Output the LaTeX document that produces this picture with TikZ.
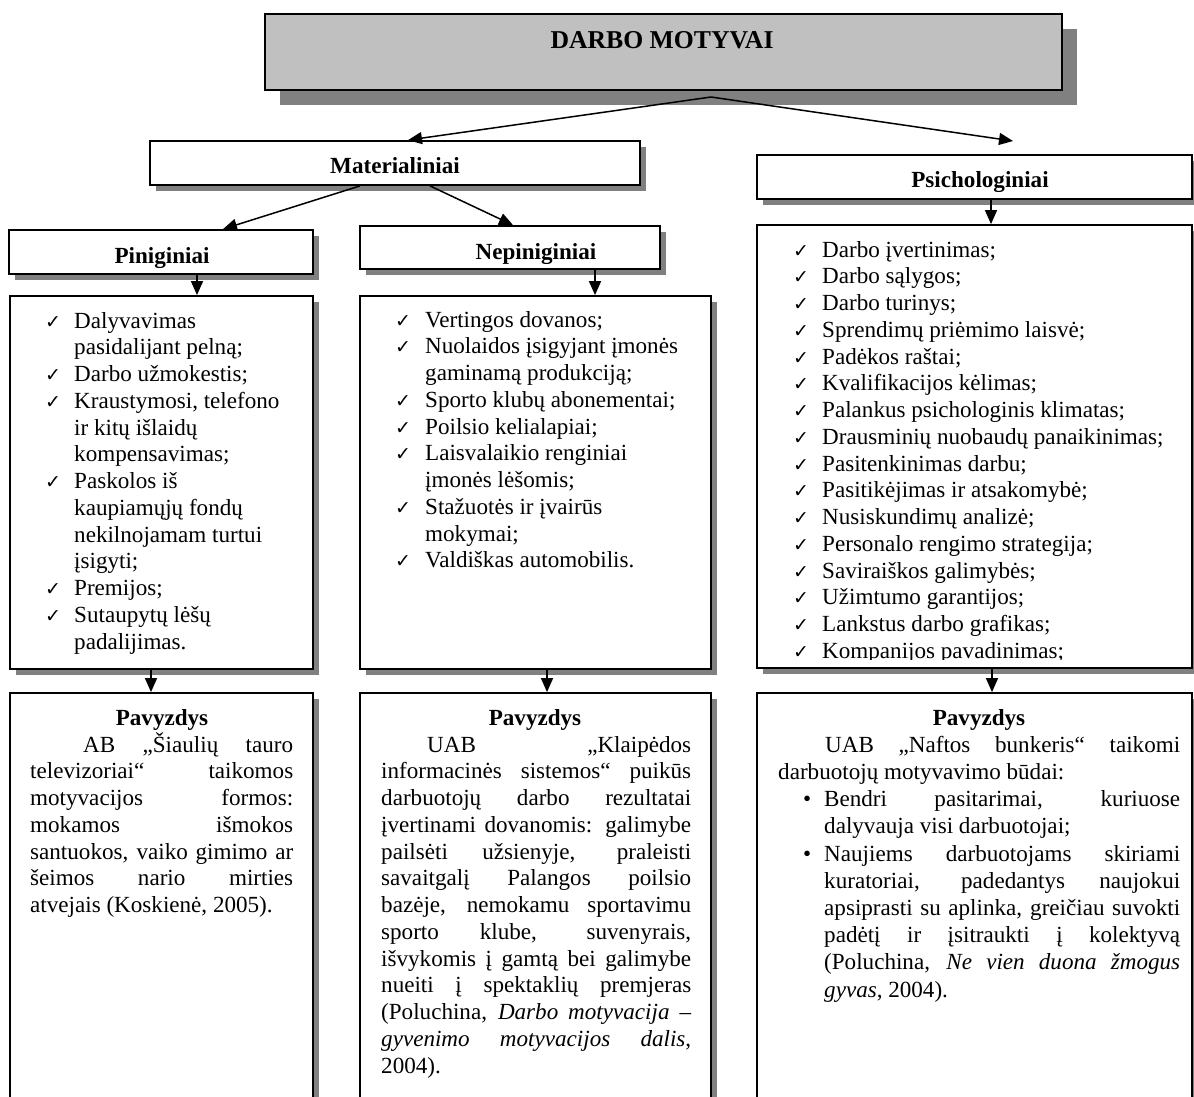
\documentclass[tikz,border=0pt]{standalone}
\usepackage{fontspec}
\setmainfont{Liberation Serif}
\newfontfamily\symfont{DejaVu Sans}
\usetikzlibrary{arrows.meta,shadows}
\definecolor{shade}{RGB}{128,128,128}
\definecolor{capfill}{RGB}{192,192,192}
\tikzset{
  panel/.style={draw, line width=1.8pt, fill=white, inner sep=0pt, rectangle,
    drop shadow={shadow xshift=#1, shadow yshift=-#1, fill=shade, opacity=1}},
  panel/.default=6pt,
  txt/.style={font=\fontsize{23.1}{26.75}\selectfont, inner sep=0pt, anchor=base west},
  head/.style={font=\fontsize{23.1}{26.75}\selectfont\bfseries, inner sep=0pt, anchor=base},
  chk/.style={font=\symfont\fontsize{19}{19}\selectfont, inner sep=0pt, anchor=base west},
  arr/.style={line width=1.5pt, -{Triangle[length=14pt,width=12pt]}},
}
\begin{document}
\begin{tikzpicture}[x=1pt,y=-1pt]
\useasboundingbox (0,0) rectangle (1194,1097);
\clip (0,0) rectangle (1194,1097);

% ---- boxes ----
\node[panel=15pt, fill=capfill, minimum width=797, minimum height=76] (top) at (663.5,52) {};
\node[panel, minimum width=490, minimum height=44] (mat) at (395,163) {};
\node[panel, minimum width=435, minimum height=44] (psy) at (974.5,177) {};
\node[panel, minimum width=304, minimum height=44] (pin) at (161,252) {};
\node[panel, minimum width=300, minimum height=43] (nep) at (510,247.5) {};
\node[panel, minimum width=303, minimum height=373] (pinlist) at (161.5,482.5) {};
\node[panel, minimum width=351, minimum height=373] (neplist) at (535.5,482.5) {};
\node[panel, minimum width=435, minimum height=443] (psylist) at (974.5,446.5) {};
\node[panel, minimum width=303, minimum height=430] (pinex) at (161.5,908) {};
\node[panel, minimum width=351, minimum height=430] (nepex) at (535.5,908) {};
\node[panel, minimum width=435, minimum height=430] (psyex) at (974.5,908) {};

% ---- headings ----
\node[head, font=\fontsize{25.7}{29}\selectfont\bfseries] (toptxt) at (662,49) {DARBO MOTYVAI};
\node[head] (mattxt) at (395,173) {Materialiniai};
\begin{scope}
  \clip (757,155) rectangle (1192,191);
  \node[head] (psytxt) at (980,187) {Psichologiniai};
\end{scope}
\begin{scope}
  \clip (9,230) rectangle (313,267);
  \node[head] (pintxt) at (162,263) {Piniginiai};
\end{scope}
\begin{scope}
  \clip (360,226) rectangle (660,263);
  \node[head] (neptxt) at (536,259) {Nepiniginiai};
\end{scope}

% ---- connectors ----
\coordinate (apex) at (711,97);
\coordinate (psytip) at (1013,141);
\draw[arr] (apex) -- ([xshift=13pt]mat.north);
\draw[arr] (apex) -- (psytip);
\draw[arr] ([xshift=-35pt]mat.south) -- ([xshift=62pt]pin.north);
\draw[arr] ([xshift=35pt]mat.south) -- ([xshift=3pt]nep.north);
\draw[arr] ([xshift=36pt]pin.south) -- ([xshift=35.5pt]pinlist.north);
\draw[arr] ([xshift=85pt]nep.south) -- ([xshift=59.5pt]neplist.north);
\draw[arr] ([xshift=16.5pt]psy.south) -- ([xshift=16.5pt]psylist.north);
\draw[arr] ([xshift=-10.5pt]pinlist.south) -- ([xshift=-10.5pt]pinex.north);
\draw[arr] ([xshift=11.5pt]neplist.south) -- ([xshift=11.5pt]nepex.north);
\draw[arr] ([xshift=17.5pt]psylist.south) -- ([xshift=17.5pt]psyex.north);

% ---- money motives ----
\foreach \t [count=\i from 0] in {{Dalyvavimas},{pasidalijant pelną;},{Darbo užmokestis;},
  {Kraustymosi, telefono},{ir kitų išlaidų},{kompensavimas;},{Paskolos iš},
  {kaupiamųjų fondų},{nekilnojamam turtui},{įsigyti;},{Premijos;},{Sutaupytų lėšų},{padalijimas.}}
  \node[txt] (pl\i) at (74,328+\i*26.75) {\t};
\foreach \i in {0,2,3,6,10,11}
  \node[chk] (plc\i) at (45,328+\i*26.75) {✓};

% ---- non-money motives ----
\foreach \t [count=\i from 0] in {{Vertingos dovanos;},{Nuolaidos įsigyjant įmonės},{gaminamą produkciją;},
  {Sporto klubų abonementai;},{Poilsio kelialapiai;},{Laisvalaikio renginiai},{įmonės lėšomis;},
  {Stažuotės ir įvairūs},{mokymai;},{Valdiškas automobilis.}}
  \node[txt] (nl\i) at (425,327+\i*26.75) {\t};
\foreach \i in {0,1,3,4,5,7,9}
  \node[chk] (nlc\i) at (395,327+\i*26.75) {✓};

% ---- psychological motives ----
\begin{scope}
  \clip (757,225) rectangle (1192,659);
  \foreach \t [count=\i from 0] in {{Darbo įvertinimas;},{Darbo sąlygos;},{Darbo turinys;},
    {Sprendimų priėmimo laisvė;},{Padėkos raštai;},{Kvalifikacijos kėlimas;},
    {Palankus psichologinis klimatas;},{Drausminių nuobaudų panaikinimas;},{Pasitenkinimas darbu;},
    {Pasitikėjimas ir atsakomybė;},{Nusiskundimų analizė;},{Personalo rengimo strategija;},
    {Saviraiškos galimybės;},{Užimtumo garantijos;},{Lankstus darbo grafikas;},{Kompanijos pavadinimas;}}
    {\node[txt] (sl\i) at (822,257+\i*26.75) {\t};
     \node[chk] (slc\i) at (793,257+\i*26.75) {✓};}
\end{scope}

% ---- examples ----
\node[head] (pexh) at (162,725) {Pavyzdys};
\node[txt] (pex0) at (83,752) {\makebox[210pt][s]{AB „Šiaulių tauro}};
\foreach \t [count=\i from 1] in {{televizoriai“ taikomos},{motyvacijos formos:},{mokamos išmokos},
  {santuokos, vaiko gimimo ar},{šeimos nario mirties}}
  \node[txt] (pex\i) at (30,752+\i*26.75) {\makebox[263pt][s]{\t}};
\node[txt] (pex6) at (30,752+6*26.75) {atvejais (Koskienė, 2005).};

\node[head] (nexh) at (535,725) {Pavyzdys};
\node[txt] (nex0) at (427,752) {\makebox[264pt][s]{UAB „Klaipėdos}};
\foreach \t [count=\i from 1] in {{informacinės sistemos“ puikūs},{darbuotojų darbo rezultatai},
  {įvertinami dovanomis: galimybe},{pailsėti užsienyje, praleisti},{savaitgalį Palangos poilsio},
  {bazėje, nemokamu sportavimu},{sporto klube, suvenyrais,},{išvykomis į gamtą bei galimybe},
  {nueiti į spektaklių premjeras},{(Poluchina, \textit{Darbo motyvacija –}},
  {\textit{gyvenimo motyvacijos dalis},}}
  \node[txt] (nex\i) at (381,752+\i*26.75) {\makebox[310pt][s]{\t}};
\node[txt] (nex12) at (381,752+12*26.75) {2004).};

\node[head] (sexh) at (979,725) {Pavyzdys};
\node[txt] (sex0) at (825,752.2) {\makebox[355pt][s]{UAB „Naftos bunkeris“ taikomi}};
\node[txt] (sex1) at (778,752.2+27.2) {darbuotojų motyvavimo būdai:};
\node[txt] (sexb1) at (803,752.2+2*27.2) {•};
\node[txt] (sex2) at (824,752.2+2*27.2) {\makebox[356pt][s]{Bendri pasitarimai, kuriuose}};
\node[txt] (sex3) at (824,752.2+3*27.2) {dalyvauja visi darbuotojai;};
\node[txt] (sexb2) at (803,752.2+4*27.2) {•};
\foreach \t [count=\i from 4] in {{Naujiems darbuotojams skiriami},{kuratoriai, padedantys naujokui},
  {apsiprasti su aplinka, greičiau suvokti},{padėtį ir įsitraukti į kolektyvą},
  {(Poluchina, \textit{Ne vien duona žmogus}}}
  \node[txt] (sex\i) at (824,752.2+\i*27.2) {\makebox[356pt][s]{\t}};
\node[txt] (sex9) at (824,752.2+9*27.2) {\textit{gyvas}, 2004).};
\end{tikzpicture}
\end{document}
